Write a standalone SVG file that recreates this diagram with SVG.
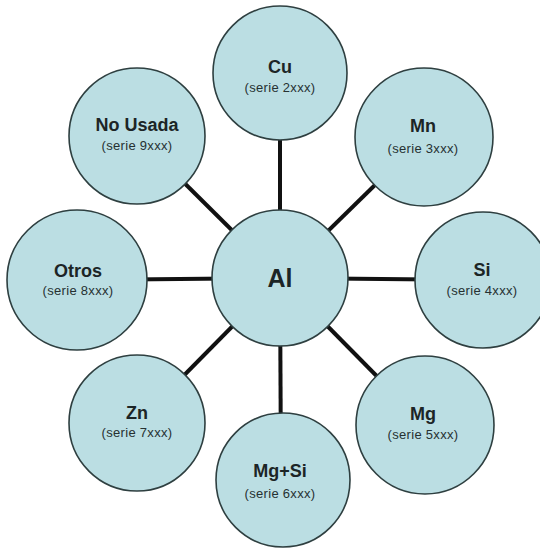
<svg xmlns="http://www.w3.org/2000/svg" width="540" height="548" viewBox="0 0 540 548">
<style>
.n{fill:#bbdee3;stroke:#2e3f40;stroke-width:1.6}
.t{font-family:"Liberation Sans",Arial,sans-serif;font-weight:bold;font-size:18px;fill:#1c2526;text-anchor:middle}
.s{font-family:"Liberation Sans",Arial,sans-serif;font-size:13px;letter-spacing:0.3px;fill:#263132;text-anchor:middle}
.c{stroke:#111;stroke-width:4;fill:none}
</style>
<rect width="540" height="548" fill="#ffffff"/>
<g id="connectors">
<line class="c" x1="280" y1="278" x2="280" y2="73"/>
<line class="c" x1="280" y1="278" x2="424" y2="137"/>
<line class="c" x1="280" y1="278" x2="483" y2="280"/>
<line class="c" x1="280" y1="278" x2="425" y2="425"/>
<line class="c" x1="280" y1="278" x2="281" y2="480"/>
<line class="c" x1="280" y1="278" x2="137" y2="423"/>
<line class="c" x1="280" y1="278" x2="77" y2="280"/>
<line class="c" x1="280" y1="278" x2="137" y2="136"/>
</g>
<g id="cu"><circle class="n" cx="280" cy="73" r="67"/><text class="t" x="280" y="73">Cu</text><text class="s" x="280" y="92">(serie 2xxx)</text></g>
<g id="mn"><circle class="n" cx="424" cy="137" r="69"/><text class="t" x="423" y="132">Mn</text><text class="s" x="423" y="153">(serie 3xxx)</text></g>
<g id="si"><circle class="n" cx="483" cy="280" r="68"/><text class="t" x="482" y="276">Si</text><text class="s" x="482" y="295">(serie 4xxx)</text></g>
<g id="mg"><circle class="n" cx="425" cy="425" r="69"/><text class="t" x="423" y="420">Mg</text><text class="s" x="423" y="439">(serie 5xxx)</text></g>
<g id="mgsi"><circle class="n" cx="283" cy="480" r="67"/><text class="t" x="280" y="477">Mg+Si</text><text class="s" x="280" y="498">(serie 6xxx)</text></g>
<g id="zn"><circle class="n" cx="137" cy="423" r="68"/><text class="t" x="137" y="419">Zn</text><text class="s" x="137" y="437">(serie 7xxx)</text></g>
<g id="otros"><circle class="n" cx="77" cy="280" r="70"/><text class="t" x="78" y="277">Otros</text><text class="s" x="78" y="295">(serie 8xxx)</text></g>
<g id="nousada"><circle class="n" cx="137" cy="136" r="68"/><text class="t" x="137" y="131">No Usada</text><text class="s" x="137" y="150">(serie 9xxx)</text></g>
<g id="al"><circle class="n" cx="280" cy="278" r="68"/><text class="t" x="280" y="287" style="font-size:25px">Al</text></g>
</svg>
